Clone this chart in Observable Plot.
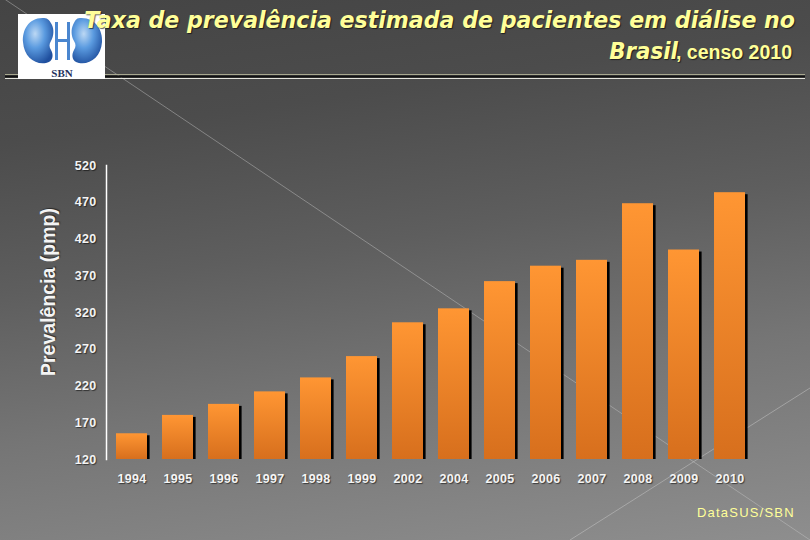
<!DOCTYPE html>
<html>
<head>
<meta charset="utf-8">
<script src="https://cdn.jsdelivr.net/npm/d3@7"></script>
<script src="https://cdn.jsdelivr.net/npm/@observablehq/plot@0.6"></script>
<style>
  html, body { margin: 0; padding: 0; }
  #page {
    position: relative; width: 810px; height: 540px; overflow: hidden;
    background: linear-gradient(172deg, #444444 0%, #4c4c4c 22%, #5e5e5e 45%, #757575 68%, #8e8e8e 100%);
    font-family: "Liberation Sans", Arial, sans-serif;
  }
  #deco { position: absolute; left: 0; top: 0; }
  #chart { position: absolute; left: 0; top: 0; }
  #chart svg text { text-shadow: 1px 1px 1px rgba(0,0,0,0.55); font-size: 12.5px; letter-spacing: 0.3px; }
  .t1 {
    position: absolute; right: 15px; top: 6px; white-space: nowrap;
    font-family: "DejaVu Sans", sans-serif; font-weight: bold; font-style: italic;
    font-size: 23.5px; color: #ffff99; text-shadow: 1px 1px 1px rgba(0,0,0,0.6);
    transform: scaleX(0.94); transform-origin: right center;
  }
  .t2 {
    position: absolute; right: 18px; top: 38px; white-space: nowrap;
    color: #ffff99; text-shadow: 1px 1px 1px rgba(0,0,0,0.6);
  }
  .t2 .b { display: inline-block; font-family: "DejaVu Sans", sans-serif; font-weight: bold; font-style: italic; font-size: 23px; transform: scaleX(0.93); transform-origin: right center; margin-right: -2px; }
  .t2 .c { font-family: "Liberation Sans", Arial, sans-serif; font-weight: bold; font-size: 19.5px; }
  #ylab {
    position: absolute; left: 48px; top: 292px; white-space: nowrap;
    transform: translate(-50%, -50%) rotate(-90deg);
    font-weight: bold; font-size: 19.5px; color: #f4f4f4;
    text-shadow: 1px 1px 1px rgba(0,0,0,0.5);
  }
  #cap {
    position: absolute; left: 697px; top: 505px; white-space: nowrap;
    font-size: 13px; letter-spacing: 1.2px; color: #ffff99;
  }
</style>
</head>
<body>
<div id="page">
  <svg id="deco" width="810" height="540">
    <defs>
      <radialGradient id="kid" cx="0.4" cy="0.35" r="0.7">
        <stop offset="0" stop-color="#bcd8f4"/>
        <stop offset="0.45" stop-color="#5b9be0"/>
        <stop offset="1" stop-color="#1f4f9e"/>
      </radialGradient>
    </defs>
    <line x1="0" y1="-4" x2="810" y2="540" stroke="#c8c8c8" stroke-opacity="0.45" stroke-width="1"/>
    <line x1="570" y1="540" x2="810" y2="388" stroke="#d0d0d0" stroke-opacity="0.45" stroke-width="1"/>
    <line x1="5" y1="74.5" x2="805" y2="74.5" stroke="#a8a890" stroke-width="1"/>
    <line x1="5" y1="76.5" x2="805" y2="76.5" stroke="#111111" stroke-width="2.2"/>
    <line x1="5" y1="78.5" x2="805" y2="78.5" stroke="#e4e4dc" stroke-width="1.2"/>
    <rect x="18" y="14" width="87" height="65" fill="#ffffff"/>
    <path d="M44,18 C29,17 22,30 23,42 C24,57 35,65 46,63 C53,62 54,55 51,50 C49,47 49,44 51,41 C54,36 54,29 52,25 C50,21 48,18 44,18 Z" fill="url(#kid)"/>
    <path d="M80,18 C95,17 103,30 102,42 C101,57 90,65 79,63 C72,62 71,55 74,50 C76,47 76,44 74,41 C71,36 71,29 73,25 C75,21 76,18 80,18 Z" fill="url(#kid)"/>
    <path d="M55,22 L58,22 L58,60 L55,60 Z M67,22 L70,22 L70,60 L67,60 Z M58,39 L67,39 L67,42 L58,42 Z" fill="#4a86cf"/>
    <text x="62" y="77" text-anchor="middle" font-family="Liberation Serif, serif" font-weight="bold" font-size="11" fill="#26325e">SBN</text>
  </svg>
  <div id="chart"></div>
  <div class="t1">Taxa de prevalência estimada de pacientes em diálise no</div>
  <div class="t2"><span class="b">Brasil</span><span class="c">, censo 2010</span></div>
  <div id="ylab">Prevalência (pmp)</div>
  <div id="cap">DataSUS/SBN</div>
</div>
<script>
const years = ["1994","1995","1996","1997","1998","1999","2002","2004","2005","2006","2007","2008","2009","2010"];
const prevalence = [155, 180, 195, 212, 231, 260, 306, 325, 362, 383, 391, 468, 405, 483];
const yTicks = [120, 170, 220, 270, 320, 370, 420, 470, 520];

const data = years.map((year, i) => ({year, value: prevalence[i]}));

const chart = Plot.plot({
  width: 810,
  height: 540,
  marginLeft: 106,
  marginRight: 55,
  marginTop: 165,
  marginBottom: 81,
  style: {background: "transparent", color: "#f4f4f4", fontFamily: "Liberation Sans, Arial, sans-serif", fontSize: "12.5px", fontWeight: "bold", overflow: "visible"},
  x: {domain: years, paddingInner: 0.32, paddingOuter: 0.17, label: null, tickSize: 0, tickPadding: 15},
  y: {domain: [120, 520], ticks: yTicks, label: null, tickSize: 0, tickPadding: 10},
  marks: [
    Plot.barY(data, {x: "year", y1: 120, y2: "value", fill: "#000000", dx: 2.6, insetTop: 2}),
    Plot.barY(data, {x: "year", y1: 120, y2: "value", fill: "url(#barGrad)"}),
    Plot.frame({anchor: "left", stroke: "#ffffff", strokeWidth: 1.5})
  ]
});

const defs = d3.select(chart).insert("defs", ":first-child");
const g = defs.append("linearGradient").attr("id", "barGrad").attr("x1", 0).attr("y1", 0).attr("x2", 0).attr("y2", 1);
g.append("stop").attr("offset", 0).attr("stop-color", "#ff9633");
g.append("stop").attr("offset", 1).attr("stop-color", "#d76f1d");

document.getElementById("chart").appendChild(chart);
</script>
</body>
</html>
